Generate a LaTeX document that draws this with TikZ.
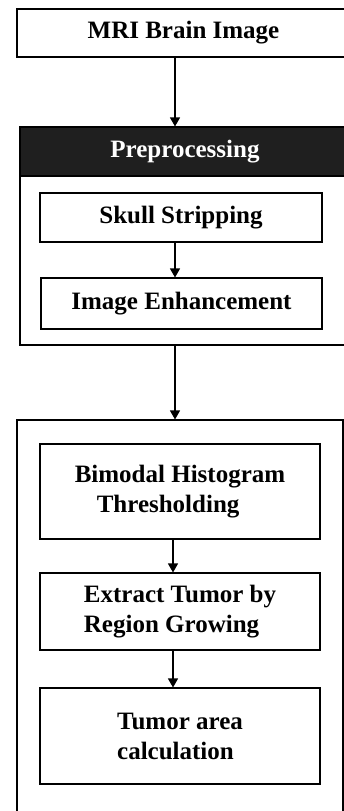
\documentclass[tikz,border=0pt]{standalone}
\usepackage{fontspec}
\setmainfont{Liberation Serif}
\usetikzlibrary{arrows.meta}
\begin{document}
\begin{tikzpicture}[x=1pt,y=-1pt,
  box/.style={draw, line width=1.1pt, inner sep=0pt, align=left,
    font=\bfseries\fontsize{25}{30}\selectfont},
  frame/.style={draw, line width=1.1pt, inner sep=0pt},
  header/.style={fill=black!88, draw=black, line width=1.1pt, inner sep=0pt,
    text=white, font=\bfseries\fontsize{25}{30}\selectfont},
  arr/.style={-{Triangle[width=10pt,length=9pt]}, line width=1.1pt}]
\useasboundingbox (0,0) rectangle (344,811);
\fill[white] (0,0) rectangle (344,811);
\coordinate (ax) at (175,0);
\coordinate (bx) at (173,0);
\node[box, minimum width=333pt, minimum height=48pt] (mri) at (183.5,33) {MRI Brain Image};
\node[frame, minimum width=330pt, minimum height=218pt] (pre) at (185,236) {};
\node[header, minimum width=330pt, minimum height=49pt] (head) at (185,151.5) {Preprocessing};
\node[box, minimum width=282pt, minimum height=49pt] (skull) at (181,217.5) {Skull Stripping};
\node[box, minimum width=281pt, minimum height=51pt] (enh) at (181.5,303.5) {Image Enhancement};
\node[frame, minimum width=326pt, minimum height=410pt] (proc) at (180,625) {};
\node[box, minimum width=280pt, minimum height=95pt] (bim) at (180,491.5) {Bimodal Histogram\\\hspace*{22pt}Thresholding};
\node[box, minimum width=280pt, minimum height=77pt] (ext) at (180,611.5) {Extract Tumor by\\Region Growing};
\node[box, minimum width=280pt, minimum height=96pt] (tum) at (180,736) {Tumor area\\calculation};
\draw[arr] (mri.south -| ax) -- (head.north -| ax);
\draw[arr] (skull.south -| ax) -- (enh.north -| ax);
\draw[arr] (pre.south -| ax) -- (proc.north -| ax);
\draw[arr] (bim.south -| bx) -- (ext.north -| bx);
\draw[arr] (ext.south -| bx) -- (tum.north -| bx);
\end{tikzpicture}
\end{document}
